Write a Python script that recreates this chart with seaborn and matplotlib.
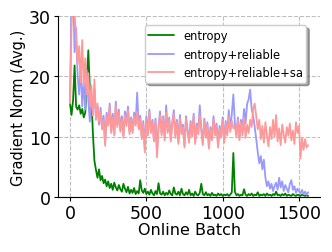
import numpy as np
import pandas as pd
import seaborn as sns
import matplotlib
matplotlib.use("Agg")
import matplotlib.pyplot as plt

# one value every 10 online batches
batches = list(range(0, 1570, 10))

entropy = [
    15.5, 13.6, 16.0, 21.8, 15.0, 14.5, 15.2, 13.8, 14.6, 13.2,
    14.0, 19.0, 24.3, 18.0, 16.8, 10.5, 6.0, 4.5, 3.2, 4.6,
    2.8, 3.5, 2.3, 2.9, 1.8, 2.6, 1.5, 2.2, 1.2, 2.4,
    1.6, 1.1, 2.0, 1.3, 0.9, 2.2, 1.4, 0.8, 1.7, 0.6,
    1.2, 0.7, 1.5, 0.5, 1.0, 0.6, 2.8, 1.1, 0.7, 1.4,
    0.5, 0.9, 0.4, 1.2, 0.6, 0.3, 1.0, 0.5, 2.3, 0.6,
    0.4, 0.9, 0.3, 0.7, 0.4, 1.1, 0.5, 0.3, 1.6, 0.6,
    0.4, 0.9, 0.3, 1.4, 0.5, 0.3, 0.8, 0.4, 1.2, 0.3,
    0.6, 0.2, 0.9, 0.4, 0.3, 0.7, 2.2, 0.5, 0.3, 0.8,
    0.3, 0.5, 0.2, 0.7, 0.3, 0.4, 0.2, 0.6, 0.3, 0.5,
    0.2, 0.4, 0.3, 0.5, 0.2, 0.4, 0.8, 7.3, 0.9, 0.3,
    0.5, 0.2, 0.4, 0.3, 1.3, 0.4, 0.2, 0.5, 0.3, 0.6,
    0.2, 0.4, 0.3, 0.8, 0.2, 0.4, 0.3, 0.5, 0.2, 0.6,
    0.3, 0.4, 0.2, 0.5, 0.3, 0.9, 0.3, 0.4, 0.2, 0.5,
    0.3, 0.6, 0.2, 0.4, 0.3, 0.2, 0.5, 0.3, 0.2, 0.4,
    0.3, 0.2, 0.4, 0.3, 0.2, 0.3, 0.2,
]

entropy_reliable = [
    16.0, 33.0, 35.0, 24.0, 28.0, 20.0, 17.0, 22.0, 15.0, 19.0,
    14.5, 21.0, 16.0, 12.5, 17.0, 14.0, 18.0, 13.0, 15.0, 12.0,
    14.8, 11.5, 13.5, 9.0, 14.0, 12.0, 15.5, 11.0, 13.8, 10.5,
    15.8, 12.0, 14.5, 11.2, 13.4, 10.2, 14.2, 12.4, 15.0, 10.8,
    13.2, 11.0, 14.0, 12.2, 17.3, 11.5, 13.5, 10.0, 12.6, 8.0,
    13.4, 10.5, 14.5, 11.0, 12.8, 9.5, 13.0, 7.5, 11.8, 14.2,
    10.6, 13.4, 9.8, 15.2, 11.0, 13.2, 9.6, 12.4, 14.4, 10.2,
    12.8, 9.2, 13.6, 10.8, 12.0, 8.6, 13.4, 11.2, 9.4, 12.6,
    10.4, 13.8, 9.2, 12.2, 10.8, 15.2, 11.4, 9.0, 13.0, 10.2,
    12.4, 8.4, 11.6, 9.8, 13.4, 10.6, 12.2, 8.6, 11.8, 10.2,
    13.2, 9.4, 12.6, 10.6, 14.4, 11.2, 13.8, 17.0, 12.2, 10.4,
    13.2, 9.8, 12.8, 11.4, 14.6, 12.2, 15.4, 16.2, 17.8, 14.6,
    13.4, 11.6, 9.6, 7.4, 5.6, 6.8, 4.6, 6.2, 3.2, 1.8,
    2.6, 1.4, 2.2, 1.0, 1.8, 2.4, 1.2, 3.2, 1.6, 2.6,
    1.0, 2.0, 1.4, 0.8, 2.2, 2.8, 1.2, 1.8, 0.7, 1.4,
    1.0, 0.6, 1.2, 0.5, 0.9, 0.4, 0.8,
]

entropy_reliable_sa = [
    15.5, 28.0, 34.0, 31.0, 26.0, 22.0, 25.0, 19.0, 26.0, 18.5,
    23.0, 17.0, 20.5, 15.0, 18.5, 13.5, 19.5, 12.8, 15.5, 12.5,
    14.0, 11.2, 12.8, 8.5, 13.5, 11.8, 15.0, 10.6, 13.2, 10.2,
    15.2, 11.6, 14.0, 10.8, 12.8, 9.8, 13.6, 11.8, 14.4, 10.4,
    12.8, 10.6, 13.4, 11.8, 14.2, 11.2, 13.0, 9.6, 12.2, 7.4,
    12.8, 10.2, 14.0, 10.6, 12.4, 9.2, 12.6, 6.6, 11.4, 13.6,
    10.2, 13.0, 9.4, 14.0, 10.6, 12.8, 9.2, 12.0, 13.8, 9.8,
    12.4, 8.8, 13.0, 10.4, 11.6, 8.2, 13.0, 10.8, 9.0, 12.2,
    10.0, 13.4, 8.8, 11.8, 10.4, 13.6, 11.0, 8.6, 12.6, 9.8,
    12.0, 8.0, 11.2, 9.4, 13.0, 10.2, 11.8, 8.2, 11.4, 9.8,
    12.8, 9.0, 12.2, 10.2, 13.4, 10.8, 12.6, 11.4, 11.8, 10.0,
    12.8, 9.4, 12.4, 10.2, 13.2, 9.8, 12.0, 10.6, 12.8, 11.6,
    14.6, 15.5, 13.4, 11.2, 12.8, 9.6, 11.8, 9.0, 12.4, 10.2,
    8.4, 11.6, 9.6, 12.8, 10.0, 13.6, 9.2, 11.4, 8.6, 12.0,
    10.4, 9.0, 11.6, 10.2, 12.2, 9.4, 11.0, 8.8, 12.4, 10.6,
    11.8, 6.4, 9.8, 7.8, 9.6, 8.2, 8.6,
]

series = {
    "entropy": (entropy, "green"),
    "entropy+reliable": (entropy_reliable, "#9999ff"),
    "entropy+reliable+sa": (entropy_reliable_sa, "#ff9999"),
}

sns.set_style("ticks", {"axes.edgecolor": "black", "xtick.color": "black",
                        "ytick.color": "black", "text.color": "black",
                        "axes.labelcolor": "black"})
plt.rcParams["font.family"] = ["DejaVu Sans"]

fig = plt.figure(figsize=(3.32, 2.53), dpi=100)
ax = fig.add_axes([0.175, 0.217, 0.789, 0.716])

for name, (vals, color) in series.items():
    df = pd.DataFrame({"batch": batches, "norm": vals})
    sns.lineplot(data=df, x="batch", y="norm", color=color,
                 lw=1.3, label=name, ax=ax)

ax.set_ylim(0, 30)
ax.set_yticks([0, 10, 20, 30])
ax.set_xticks([0, 500, 1000, 1500])
ax.grid(True, ls="--", color="0.75", lw=0.8)
sns.despine(ax=ax)
ax.tick_params(labelsize=12.5, length=3, pad=2)
ax.set_xlabel("Online Batch", fontsize=11.5, labelpad=0)
ax.set_ylabel("Gradient Norm (Avg.)", fontsize=10.5, labelpad=2)
ax.legend(loc="upper right", fontsize=8.3, shadow=True, framealpha=1,
          fancybox=True, bbox_to_anchor=(0.97, 0.98), borderpad=0.3,
          handlelength=2.2)

fig.savefig("out.png", dpi=100)
